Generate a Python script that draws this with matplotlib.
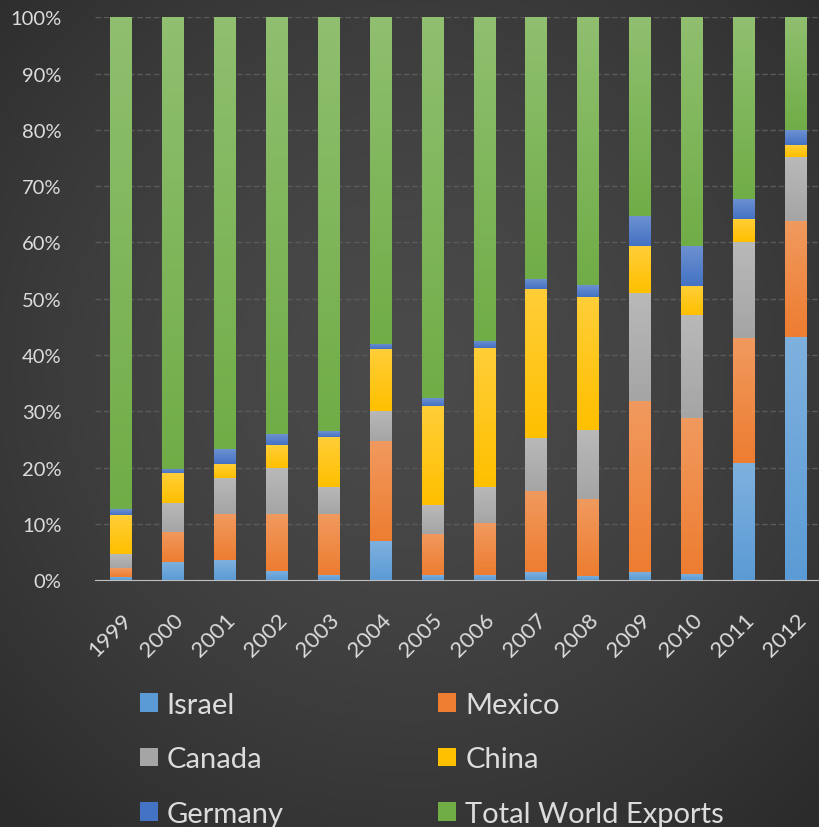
import numpy as np
import matplotlib
matplotlib.use("Agg")
import matplotlib.pyplot as plt
from matplotlib.colors import to_rgb
from matplotlib.patches import Patch
from matplotlib.ticker import PercentFormatter

plt.rcParams['font.family'] = ['Lato', 'DejaVu Sans']

years = ['1999', '2000', '2001', '2002', '2003', '2004', '2005',
         '2006', '2007', '2008', '2009', '2010', '2011', '2012']

# share of exports in percent
israel = [0.6, 3.25, 3.55, 1.65, 0.95, 7.0, 1.0, 0.9, 1.4, 0.8, 1.5, 1.1, 20.9, 43.3]
mexico = [1.5, 5.35, 8.15, 10.15, 10.75, 17.7, 7.3, 9.2, 14.5, 13.7, 30.3, 27.8, 22.2, 20.5]
canada = [2.5, 5.2, 6.4, 8.2, 4.9, 5.4, 5.0, 6.4, 9.3, 12.2, 19.3, 18.3, 16.9, 11.3]
china = [7.0, 5.2, 2.6, 4.0, 8.9, 10.9, 17.7, 24.7, 26.5, 23.7, 8.3, 5.1, 4.2, 2.3]
germany = [1.0, 0.8, 2.6, 1.9, 1.0, 1.0, 1.4, 1.3, 1.9, 2.0, 5.3, 7.0, 3.6, 2.5]
world = list(100 - np.array(israel) - np.array(mexico) - np.array(canada)
             - np.array(china) - np.array(germany))

series = [('Israel', israel, '#5B9BD5'),
          ('Mexico', mexico, '#ED7D31'),
          ('Canada', canada, '#A5A5A5'),
          ('China', china, '#FFC000'),
          ('Germany', germany, '#4472C4'),
          ('Total World Exports', world, '#70AD47')]

txt = '#dcdcdc'


def grad_img(col, n=64):
    # light tint on top fading to the base colour at the bottom
    base = np.array(to_rgb(col))
    top = base + (1 - base) * 0.22
    t = np.linspace(0, 1, n)[:, None]
    img = base * (1 - t) + top * t
    return img[:, None, :]


fig = plt.figure(figsize=(8.2, 8.28), dpi=100)

# radial dark grey background
bg = fig.add_axes([0, 0, 1, 1])
yy, xx = np.mgrid[0:1:300j, 0:1:300j]
r = np.sqrt((xx - 0.5) ** 2 + (yy - 0.55) ** 2)
v = 0.29 - 0.12 * np.clip(r / 0.72, 0, 1) ** 1.5
bg.imshow(np.dstack([v, v, v]), aspect='auto', extent=[0, 1, 0, 1], origin='lower')
bg.axis('off')

ax = fig.add_axes([95 / 820, 1 - 581.3 / 828, 727 / 820, 563 / 828])
ax.patch.set_alpha(0)

x = np.arange(len(years))
bottom = np.zeros(len(years))
for name, vals, col in series:
    bars = ax.bar(x, vals, width=0.42, bottom=bottom, color=col, label=name,
                  edgecolor='none', zorder=3)
    for rect in bars:
        x0, y0 = rect.get_x(), rect.get_y()
        ax.imshow(grad_img(col), extent=[x0, x0 + rect.get_width(), y0, y0 + rect.get_height()],
                  aspect='auto', origin='lower', zorder=3.1, interpolation='bilinear')
    bottom += np.array(vals)

ax.set_xlim(-0.5, len(years) - 0.5)
ax.set_ylim(0, 100)
ax.set_aspect('auto')
ax.set_yticks(np.arange(0, 101, 10))
ax.yaxis.set_major_formatter(PercentFormatter(decimals=0))
ax.grid(axis='y', color='#5a5a5a', linewidth=1, linestyle=(0, (4, 2)), zorder=0)
ax.tick_params(axis='y', length=0, pad=24, labelsize=14.5, labelcolor=txt)
ax.tick_params(axis='x', length=0, pad=21, labelsize=16, labelcolor=txt)
ax.set_xticks(x)
ax.set_xticklabels(years, rotation=45, ha='right', va='top', rotation_mode='anchor')
for s in ['top', 'right', 'left']:
    ax.spines[s].set_visible(False)
ax.spines['bottom'].set_color('#bfbfbf')
ax.spines['bottom'].set_linestyle((0, (2, 1)))
ax.spines['bottom'].set_zorder(4)

handles = [Patch(facecolor=c, label=n) for n, v, c in series]
order = [0, 2, 4, 1, 3, 5]
leg = fig.legend([handles[i] for i in order], [series[i][0] for i in order],
                 ncol=2, loc='upper left', bbox_to_anchor=(140 / 820, 1 - 693 / 828),
                 frameon=False, fontsize=21, labelcolor=txt, borderpad=0,
                 borderaxespad=0, handlelength=0.62, handleheight=0.62,
                 handletextpad=0.3, labelspacing=0.97, columnspacing=5.3)

fig.savefig('out.png', dpi=100)
